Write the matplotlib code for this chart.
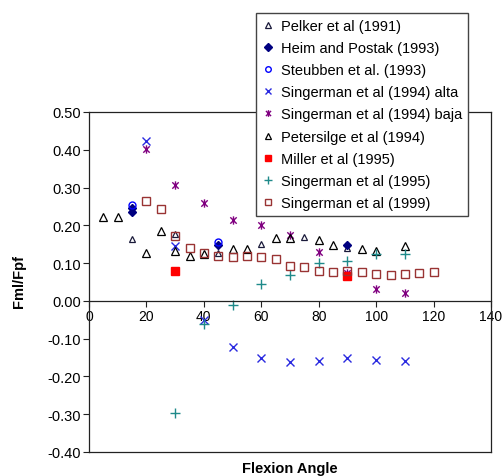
import matplotlib
matplotlib.use("Agg")
import matplotlib.pyplot as plt
from matplotlib.path import Path

plt.rcParams["font.family"] = ["Liberation Sans", "DejaVu Sans"]

# Pelker et al (1991)
pelker_x = [15, 30, 45, 60, 75, 90]
pelker_y = [0.165, 0.176, 0.128, 0.150, 0.169, 0.141]

# Heim and Postak (1993)
heim_x = [15, 15, 45, 90]
heim_y = [0.245, 0.236, 0.149, 0.148]

# Steubben et al. (1993)
steubben_x = [15, 45]
steubben_y = [0.254, 0.157]

# Singerman et al (1994) alta
sing94a_x = [20, 30, 40, 50, 60, 70, 80, 90, 100, 110]
sing94a_y = [0.422, 0.146, -0.050, -0.123, -0.150, -0.163, -0.160, -0.150, -0.157, -0.160]

# Singerman et al (1994) baja
sing94b_x = [20, 30, 40, 50, 60, 70, 80, 90, 100, 110]
sing94b_y = [0.401, 0.307, 0.258, 0.215, 0.202, 0.175, 0.130, 0.075, 0.031, 0.021]

# Petersilge et al (1994)
peters_x = [5, 10, 20, 25, 30, 35, 40, 50, 55, 65, 70, 80, 85, 95, 100, 110]
peters_y = [0.221, 0.221, 0.126, 0.185, 0.132, 0.119, 0.124, 0.137, 0.137,
            0.166, 0.167, 0.160, 0.149, 0.137, 0.132, 0.145]

# Miller et al (1995)
miller_x = [30, 90]
miller_y = [0.079, 0.067]

# Singerman et al (1995)
sing95_x = [30, 40, 50, 60, 70, 80, 90, 100, 110]
sing95_y = [-0.298, -0.062, -0.011, 0.046, 0.068, 0.099, 0.106, 0.123, 0.123]

# Singerman et al (1999)
sing99_x = [20, 25, 30, 35, 40, 45, 50, 55, 60, 65, 70, 75, 80, 85, 90,
            95, 100, 105, 110, 115, 120]
sing99_y = [0.264, 0.243, 0.173, 0.140, 0.127, 0.119, 0.115, 0.118, 0.115,
            0.111, 0.092, 0.090, 0.079, 0.077, 0.078, 0.077, 0.070, 0.068,
            0.072, 0.074, 0.077]

x_ticks = [0, 20, 40, 60, 80, 100, 120, 140]
y_ticks = [-0.40, -0.30, -0.20, -0.10, 0.00, 0.10, 0.20, 0.30, 0.40, 0.50]

# asterisk marker: an x crossed by a vertical stroke
star_path = Path(
    [(-1, -1), (1, 1), (-1, 1), (1, -1), (0, -1.3), (0, 1.3)],
    [Path.MOVETO, Path.LINETO, Path.MOVETO, Path.LINETO, Path.MOVETO, Path.LINETO],
)

fig = plt.figure(figsize=(5.03, 4.77), dpi=100)
ax = fig.add_axes([89 / 503, 1 - 453 / 477, (491 - 89) / 503, (453 - 113) / 477])

common = dict(linestyle="none")
ax.plot(pelker_x, pelker_y, marker="^", ms=5, mfc="none", mec="#1a1a3a", mew=0.9,
        label="Pelker et al (1991)", **common)
ax.plot(heim_x, heim_y, marker="D", ms=4.5, mfc="#000080", mec="#000080",
        label="Heim and Postak (1993)", **common)
ax.plot(steubben_x, steubben_y, marker="o", ms=5, mfc="none", mec="#0000ff", mew=1.0,
        label="Steubben et al. (1993)", **common)
ax.plot(sing94a_x, sing94a_y, marker="x", ms=6, mec="#2a2ae0", mew=1.0,
        label="Singerman et al (1994) alta", **common)
ax.plot(sing94b_x, sing94b_y, marker=star_path, ms=6, mfc="none", mec="#800080", mew=1.0,
        label="Singerman et al (1994) baja", **common)
ax.plot(peters_x, peters_y, marker="^", ms=6, mfc="none", mec="black", mew=0.9,
        label="Petersilge et al (1994)", **common)
ax.plot(miller_x, miller_y, marker="s", ms=5.5, mfc="#ff0000", mec="#ff0000",
        label="Miller et al (1995)", **common)
ax.plot(sing95_x, sing95_y, marker="+", ms=6.5, mec="#1f8a8a", mew=1.0,
        label="Singerman et al (1995)", **common)
ax.plot(sing99_x, sing99_y, marker="s", ms=5.5, mfc="none", mec="#993333", mew=1.0,
        label="Singerman et al (1999)", **common)

ax.set_xlim(0, 140)
ax.set_ylim(-0.40, 0.50)
ax.set_xticks(x_ticks)
ax.set_yticks(y_ticks)
ax.set_xticklabels([str(v) for v in x_ticks], fontsize=10.5)
ax.set_yticklabels([f"{v:.2f}" for v in y_ticks], fontsize=10.5)

# x axis crosses at y = 0; keep a full rectangular frame around the plot area
ax.spines["bottom"].set_position(("data", 0))
for s in ax.spines.values():
    s.set_color("#222222")
    s.set_linewidth(0.9)
ax.plot([0, 1], [0, 0], transform=ax.transAxes, color="#222222", lw=0.9, clip_on=False)
ax.tick_params(axis="both", direction="out", length=4, width=0.8, color="#222222", pad=2)

fig.text(19 / 503, 1 - 282 / 477, "Fml/Fpf", rotation=90, ha="center", va="center",
         fontsize=10.5, fontweight="bold")
fig.text(290 / 503, 1 - 469 / 477, "Flexion Angle", ha="center", va="center",
         fontsize=10.5, fontweight="bold")

leg = ax.legend(loc="upper left", bbox_to_anchor=(256 / 503, 1 - 14 / 477),
                bbox_transform=fig.transFigure, borderaxespad=0, fontsize=10.5,
                frameon=True, fancybox=False, edgecolor="#444444", framealpha=1,
                numpoints=1, handlelength=0.8, handletextpad=0.5, labelspacing=0.56,
                borderpad=0.4, markerscale=0.8)
leg.get_frame().set_linewidth(1.0)
leg.set_zorder(10)

fig.savefig("out.png", dpi=100)
